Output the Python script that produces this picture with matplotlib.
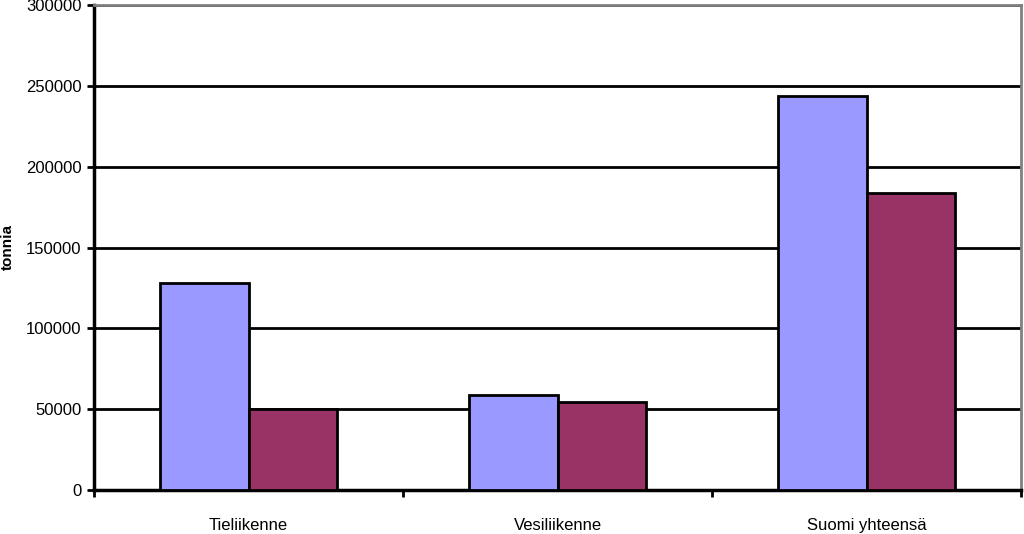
import matplotlib
matplotlib.use("Agg")
import matplotlib.pyplot as plt
import numpy as np

categories = ["Tieliikenne", "Vesiliikenne", "Suomi yhteensä"]
series_a = [128000, 58800, 243800]
series_b = [50000, 54300, 183800]
yticks = [0, 50000, 100000, 150000, 200000, 250000, 300000]

plt.rcParams['font.family'] = ['Liberation Sans', 'DejaVu Sans']

fig = plt.figure(figsize=(10.24, 5.34), dpi=100)
ax = fig.add_axes([94/1024, 1 - 490/534, (1021 - 94)/1024, (490 - 5)/534])

x = np.arange(len(categories))
w = 1 / 3.5
ax.bar(x - w/2, series_a, width=w, color='#9999FF', edgecolor='black', linewidth=2, zorder=3)
ax.bar(x + w/2, series_b, width=w, color='#993366', edgecolor='black', linewidth=2, zorder=3)

ax.set_xlim(-0.5, len(categories) - 0.5)
ax.set_ylim(0, 300000)
ax.set_yticks(yticks)
ax.set_yticklabels([str(v) for v in yticks], fontsize=12)
for v in yticks[1:]:
    ax.axhline(v, color='black', linewidth=2, zorder=1)

ax.set_xticks(np.arange(len(categories) + 1) - 0.5)
ax.set_xticklabels([])
ax.set_xticks(x, minor=True)
ax.set_xticklabels(categories, minor=True, fontsize=12)
ax.tick_params(axis='x', which='minor', length=0, pad=20)
ax.tick_params(axis='x', which='major', length=5, width=2, direction='out')
ax.tick_params(axis='y', length=5, width=2, direction='out', pad=4)

for s in ['left', 'bottom']:
    ax.spines[s].set_linewidth(2.5)
    ax.spines[s].set_color('black')
for s in ['top', 'right']:
    ax.spines[s].set_linewidth(2)
    ax.spines[s].set_color('#808080')

ax.set_ylabel('tonnia', fontsize=11, fontweight='bold')
ax.yaxis.set_label_coords((15 - 94) / 927, 0.5)

fig.savefig('out.png', dpi=100)
